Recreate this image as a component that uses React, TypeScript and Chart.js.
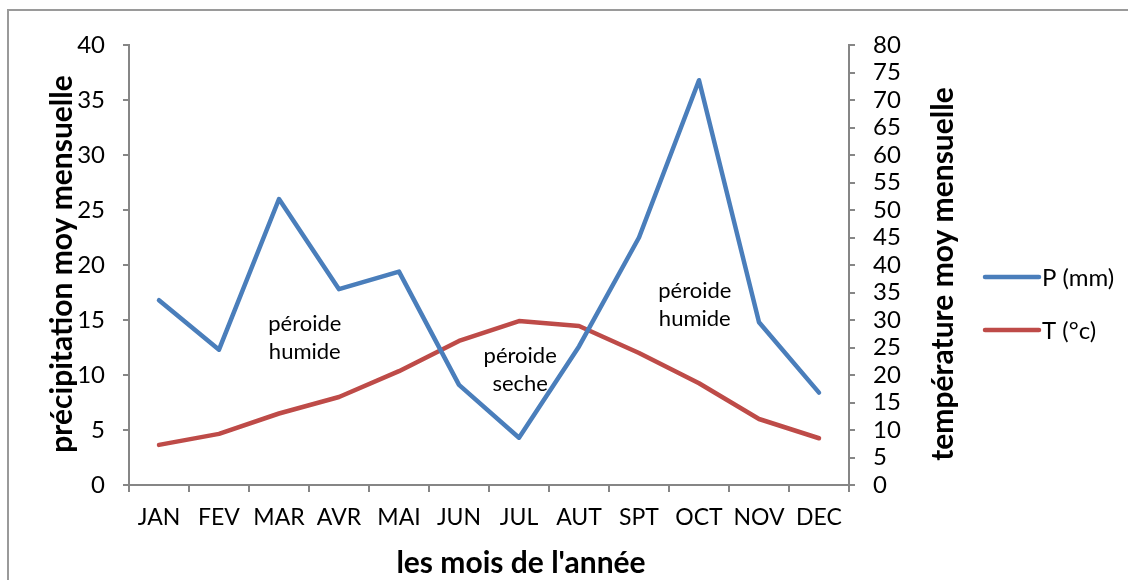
import React, { useEffect, useRef } from "react";
import { Chart, registerables } from "chart.js";

Chart.register(...registerables);

const months = ["JAN", "FEV", "MAR", "AVR", "MAI", "JUN", "JUL", "AUT", "SPT", "OCT", "NOV", "DEC"];
const precipitation = [16.8, 12.3, 26.0, 17.8, 19.4, 9.1, 4.3, 12.6, 22.5, 36.8, 14.8, 8.4];
const temperature = [7.3, 9.3, 13.0, 16.0, 20.7, 26.2, 29.8, 28.9, 24.0, 18.5, 12.0, 8.5];
const seriesLabels = ["P (mm)", "T (°c)"];
const seriesColors = ["#4A7EBB", "#BE4B48"];
const leftTitle = "précipitation moy mensuelle";
const rightTitle = "température moy mensuelle";
const bottomTitle = "les mois de l'année";
// annotation text, anchored in data units (category index, left-axis value)
const noteTexts = [["péroide", "humide"], ["péroide", "seche"], ["péroide", "humide"]];
const noteIndex = [2.43, 6.02, 8.93];
const noteValue = [13.4, 10.45, 16.4];

const FONT = "Lato, 'Open Sans', sans-serif";
const AXIS = "#868686";

const overlay = {
  id: "overlay",
  afterDraw(chart: any) {
    const ctx = chart.ctx;
    const area = chart.chartArea;
    const xs = chart.scales.x;
    const yl = chart.scales.y;
    ctx.save();
    ctx.fillStyle = "#000";
    // axis titles
    ctx.font = `bold 30px ${FONT}`;
    ctx.textAlign = "center";
    ctx.textBaseline = "middle";
    ctx.save();
    ctx.translate(area.left - 67, 264);
    ctx.rotate(-Math.PI / 2);
    ctx.fillText(leftTitle, 0, 0);
    ctx.restore();
    ctx.save();
    ctx.translate(area.right + 94, 274);
    ctx.rotate(-Math.PI / 2);
    ctx.fillText(rightTitle, 0, 0);
    ctx.restore();
    ctx.fillText(bottomTitle, 521, area.bottom + 78);
    // annotations
    ctx.font = `22px ${FONT}`;
    for (let i = 0; i < noteTexts.length; i++) {
      const cx = xs.getPixelForValue(noteIndex[i]);
      const cy = yl.getPixelForValue(noteValue[i]);
      const lines = noteTexts[i];
      const lh = 28;
      lines.forEach((t, k) => {
        ctx.fillText(t, cx, cy + (k - (lines.length - 1) / 2) * lh);
      });
    }
    // legend
    ctx.font = `24px ${FONT}`;
    ctx.textAlign = "left";
    const lx = area.right + 136;
    const ly = [277, 330];
    chart.data.datasets.forEach((ds: any, i: number) => {
      ctx.strokeStyle = ds.borderColor;
      ctx.lineWidth = 4.5;
      ctx.lineCap = "round";
      ctx.beginPath();
      ctx.moveTo(lx, ly[i]);
      ctx.lineTo(lx + 54, ly[i]);
      ctx.stroke();
      ctx.fillText(ds.label, lx + 57, ly[i] + 1);
    });
    ctx.restore();
  },
};

export default function App() {
  const ref = useRef<HTMLCanvasElement | null>(null);
  useEffect(() => {
    if (!ref.current) return;
    const chart = new Chart(ref.current, {
      type: "line",
      data: {
        labels: months,
        datasets: [
          {
            label: seriesLabels[0],
            data: precipitation,
            yAxisID: "y",
            borderColor: seriesColors[0],
            backgroundColor: seriesColors[0],
            borderWidth: 4.5,
            pointRadius: 0,
            tension: 0,
            borderJoinStyle: "round",
            borderCapStyle: "round",
          },
          {
            label: seriesLabels[1],
            data: temperature,
            yAxisID: "y1",
            borderColor: seriesColors[1],
            backgroundColor: seriesColors[1],
            borderWidth: 4.5,
            pointRadius: 0,
            tension: 0,
            borderJoinStyle: "round",
            borderCapStyle: "round",
          },
        ],
      },
      options: {
        responsive: false,
        animation: false,
        layout: { padding: { top: 45, left: 0, right: 0, bottom: 0 } },
        plugins: { legend: { display: false }, tooltip: { enabled: false } },
        scales: {
          x: {
            offset: true,
            grid: {
              offset: true,
              drawOnChartArea: false,
              drawTicks: true,
              tickLength: 7,
              color: AXIS,
              lineWidth: 2,
            },
            border: { display: true, color: AXIS, width: 2 },
            ticks: { color: "#000", font: { family: FONT, size: 23 }, padding: 12, maxRotation: 0, autoSkip: false },
            afterFit: (s: any) => {
              s.height = 95;
            },
          },
          y: {
            position: "left",
            min: 0,
            max: 40,
            ticks: { stepSize: 5, color: "#000", font: { family: FONT, size: 24 }, padding: 18 },
            grid: { drawOnChartArea: false, drawTicks: true, tickLength: 6, color: AXIS, lineWidth: 2 },
            border: { display: true, color: AXIS, width: 2 },
            afterFit: (s: any) => {
              s.width = 129;
            },
          },
          y1: {
            position: "right",
            min: 0,
            max: 80,
            ticks: { stepSize: 5, color: "#000", font: { family: FONT, size: 24 }, padding: 18, autoSkip: false },
            grid: { drawOnChartArea: false, drawTicks: true, tickLength: 6, color: AXIS, lineWidth: 2 },
            border: { display: true, color: AXIS, width: 2 },
            afterFit: (s: any) => {
              s.width = 1128 - 849;
            },
          },
        },
      },
      plugins: [overlay],
    });
    return () => chart.destroy();
  }, []);

  return (
    <div style={{ position: "fixed", left: 0, top: 0, width: 1128, height: 580, overflow: "hidden", background: "#fff" }}>
      <div
        style={{
          position: "absolute",
          left: 7,
          top: 9,
          width: 1140,
          height: 600,
          border: "2px solid #9a9a9a",
          boxSizing: "border-box",
        }}
      />
      <canvas ref={ref} width={1128} height={580} style={{ position: "absolute", left: 0, top: 0 }} />
    </div>
  );
}
